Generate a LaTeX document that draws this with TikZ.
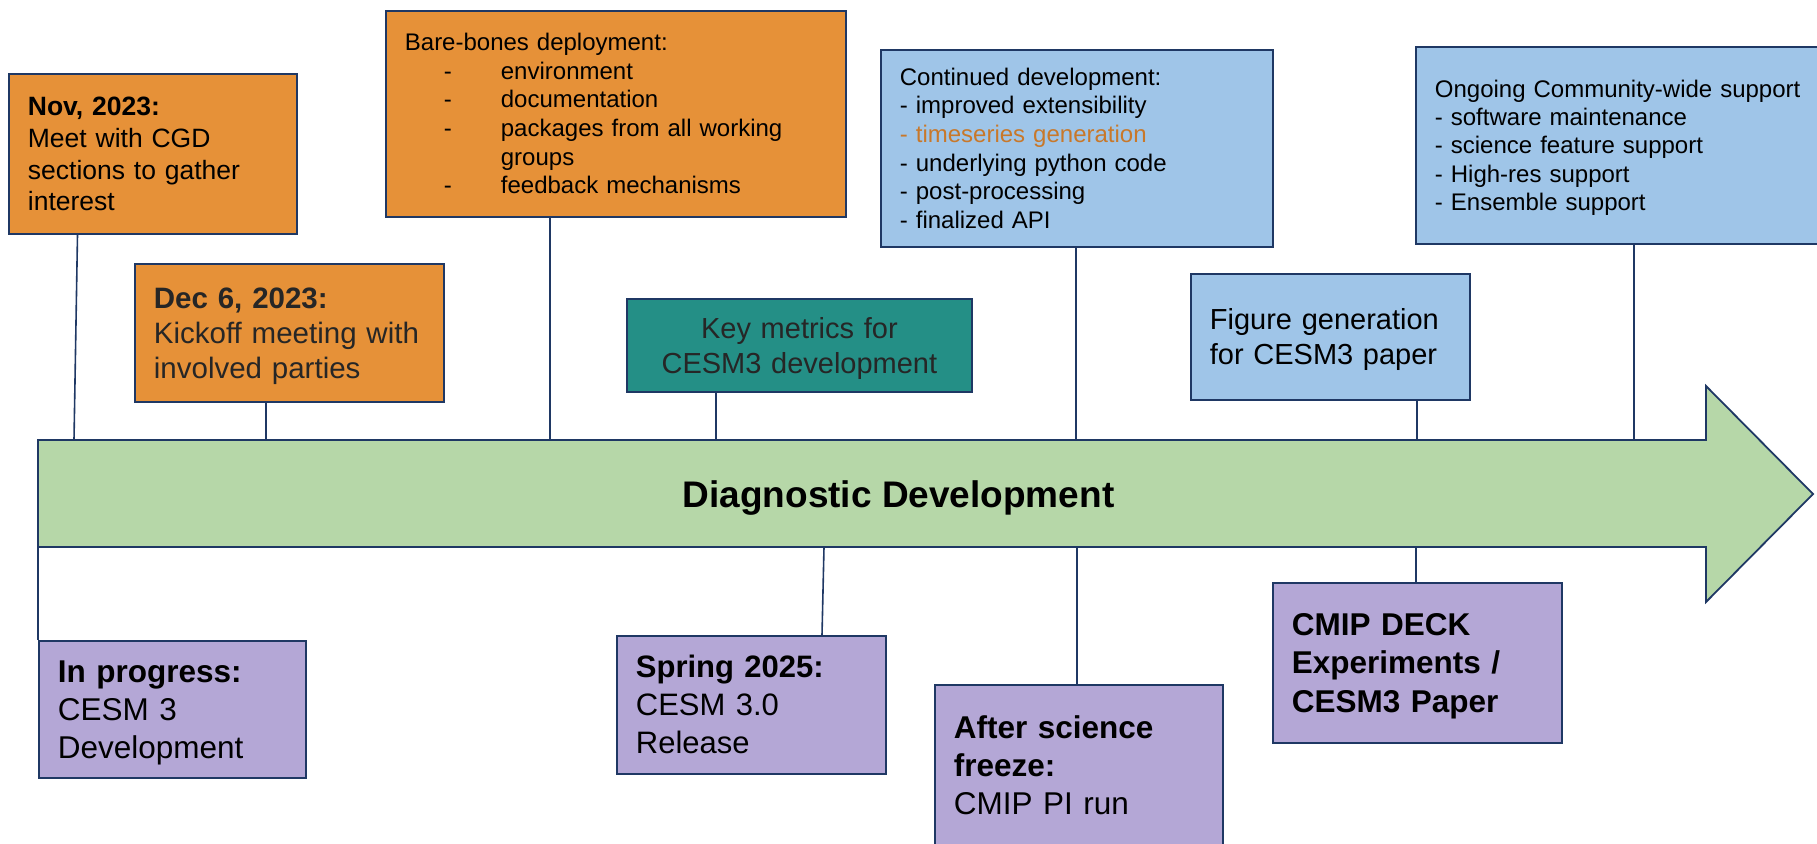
\documentclass[tikz,border=0pt]{standalone}
\usepackage{fontspec}
\setmainfont{Liberation Sans}
\usetikzlibrary{calc}

\definecolor{navy}{HTML}{1F3864}
\definecolor{orangeF}{HTML}{E69138}
\definecolor{blueF}{HTML}{9FC5E8}
\definecolor{purpleF}{HTML}{B4A7D6}
\definecolor{greenF}{HTML}{B6D7A8}
\definecolor{tealF}{HTML}{248F86}
\definecolor{tsorange}{HTML}{C8782A}
\definecolor{darktext}{HTML}{262626}

% struts with the ascent/descent of the font, so lines centre like in a slide box
\newcommand\tstrut{\rule[-0.21em]{0pt}{1.12em}}
\newcommand\bstrut{\rule[-0.21em]{0pt}{0.8em}}
% indented dash item of the deployment list
\newcommand\bitem{\makebox[96pt][l]{\hspace{39pt}-}}

\tikzset{
  evt/.style={draw=navy, line width=1.8pt, rectangle, anchor=north west,
              inner xsep=19pt, inner ysep=0pt, align=left},
  bsize/.style 2 args={minimum width=#1pt, minimum height=#2pt,
              text width=\dimexpr #1pt-38pt\relax},
  orangebox/.style={evt, fill=orangeF},
  bluebox/.style={evt, fill=blueF},
  purplebox/.style={evt, fill=purpleF},
  tealbox/.style={evt, fill=tealF, align=center},
  fsz/.style 2 args={font=\fontsize{#1}{#2}\selectfont},
  conn/.style={draw=navy, line width=1.6pt},
  timeline/.style={draw=navy, line width=1.8pt, fill=greenF, line join=miter},
}

\begin{document}
\begin{tikzpicture}[x=1pt, y=-1pt]
\useasboundingbox (0,0) rectangle (1817,843);
\clip (0,0) rectangle (1817,843);

% the timeline arrow
\draw[timeline] (38,440) -- (1706,440) -- (1706,386) -- (1813,494)
  -- (1706,602) -- (1706,547) -- (38,547) -- cycle;
\node[font=\fontsize{37}{44}\selectfont\bfseries, anchor=base]
  (title) at (898.5,507) {Diagnostic Development};

% attachment points on the arrow
\coordinate (a-nov) at (74,440);
\coordinate (a-dec) at (266,440);
\coordinate (a-bare) at (550,440);
\coordinate (a-key) at (716,440);
\coordinate (a-cont) at (1076,440);
\coordinate (a-fig) at (1417,440);
\coordinate (a-ong) at (1634,440);
\coordinate (a-inp) at (38,547);
\coordinate (a-spr) at (824,547);
\coordinate (a-aft) at (1077,547);
\coordinate (a-cmip) at (1416,547);

% milestones above the timeline
\node[orangebox, bsize={288}{160}, fsz={26.5}{31.7}] (nov) at (8,73)
  {\tstrut\textbf{Nov, 2023:}\\Meet with CGD\\sections to gather\\interest\bstrut};
\node[orangebox, bsize={309}{138}, fsz={29.5}{35}, text=darktext] (dec) at (134,263)
  {\tstrut\textbf{Dec 6, 2023:}\\Kickoff meeting with\\involved parties\bstrut};
\node[orangebox, bsize={460}{206}, fsz={24}{28.6}] (bare) at (385,10)
  {\tstrut Bare-bones deployment:\\
   \bitem environment\\
   \bitem documentation\\
   \bitem packages from all working\\
   \hspace*{96pt}groups\\
   \bitem feedback mechanisms\bstrut};
\node[tealbox, bsize={345}{93}, fsz={29}{35}, text=darktext] (key) at (626,298)
  {\tstrut Key metrics for\\CESM3 development\bstrut};
\node[bluebox, bsize={392}{197}, fsz={24}{28.7}] (cont) at (880,49)
  {\tstrut Continued development:\\
   - improved extensibility\\
   {\color{tsorange}- timeseries generation}\\
   - underlying python code\\
   - post-processing\\
   - finalized API\bstrut};
\node[bluebox, bsize={279}{126}, fsz={29}{34.5}] (fig) at (1190,273)
  {\tstrut Figure generation\\for CESM3 paper\bstrut};
\node[bluebox, bsize={430}{197}, fsz={24}{28.3}] (ong) at (1415,46)
  {\tstrut Ongoing Community-wide support\\
   - software maintenance\\
   - science feature support\\
   - High-res support\\
   - Ensemble support\bstrut};

% milestones below the timeline
\node[purplebox, bsize={267}{137}, fsz={31.5}{38}] (inp) at (38,640)
  {\tstrut\textbf{In progress:}\\CESM 3\\Development\bstrut};
\node[purplebox, bsize={269}{138}, fsz={31}{38}] (spr) at (616,635)
  {\tstrut\textbf{Spring 2025:}\\CESM 3.0\\Release\bstrut};
\node[purplebox, bsize={288}{162}, fsz={31.5}{38}] (aft) at (934,684)
  {\tstrut\textbf{After science}\\\textbf{freeze:}\\CMIP PI run\bstrut};
\node[purplebox, bsize={289}{160}, fsz={31.5}{38.5}] (cmip) at (1272,582)
  {\tstrut\textbf{CMIP DECK}\\\textbf{Experiments /}\\\textbf{CESM3 Paper}\bstrut};

% connectors from the milestones to the arrow
\draw[conn] ($(nov.south west)+(69.5,0)$) -- (a-nov);
\draw[conn] (dec.south -| a-dec) -- (a-dec);
\draw[conn] (bare.south -| a-bare) -- (a-bare);
\draw[conn] (key.south -| a-key) -- (a-key);
\draw[conn] (cont.south -| a-cont) -- (a-cont);
\draw[conn] (fig.south -| a-fig) -- (a-fig);
\draw[conn] (ong.south -| a-ong) -- (a-ong);
\draw[conn] (a-inp) -- (inp.north west);
\draw[conn] (a-spr) -- ($(spr.north west)+(206,0)$);
\draw[conn] (a-aft) -- (aft.north -| a-aft);
\draw[conn] (a-cmip) -- (cmip.north -| a-cmip);
\end{tikzpicture}
\end{document}
